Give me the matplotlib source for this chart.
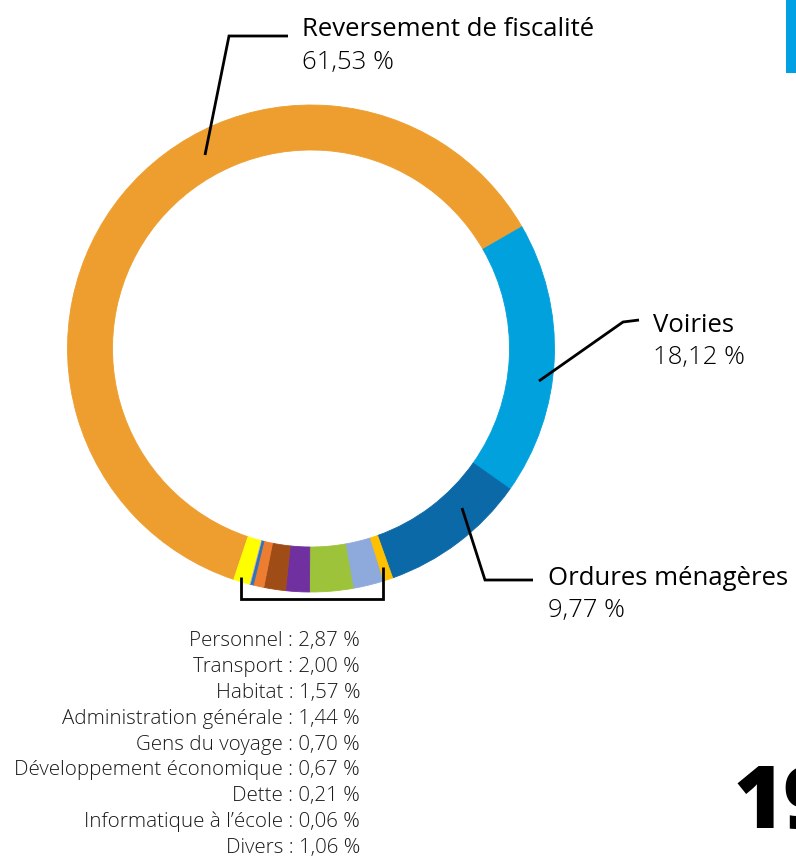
import matplotlib.pyplot as plt

W, H = 796, 859

# data, in the order drawn around the ring (clockwise)
labels = ["Reversement de fiscalité", "Voiries", "Ordures ménagères",
          "Développement économique", "Transport", "Personnel", "Habitat",
          "Administration générale", "Gens du voyage", "Dette",
          "Informatique à l’école", "Divers"]
values = [61.53, 18.12, 9.77, 0.67, 2.00, 2.87, 1.57, 1.44, 0.70, 0.21, 0.06, 1.06]
colors = ["#EE9E2E", "#00A1DC", "#0B69A8", "#FFC000", "#8EA9DB", "#9DC33B",
          "#7030A0", "#A04C16", "#ED7D31", "#2E75B6", "#C9A0DC", "#FFFF00"]

# list under the chart
list_labels = ["Personnel", "Transport", "Habitat", "Administration générale",
               "Gens du voyage", "Développement économique", "Dette",
               "Informatique à l’école", "Divers"]
list_values = [2.87, 2.00, 1.57, 1.44, 0.70, 0.67, 0.21, 0.06, 1.06]


def fr(v):
    return f"{v:.2f}".replace(".", ",") + " %"


plt.rcParams['font.family'] = ['Open Sans', 'DejaVu Sans']

fig = plt.figure(figsize=(W / 100, H / 100), dpi=100)
ax = fig.add_axes([0, 0, 1, 1])

cx, cy, r = 311, H - 348.5, 243.5
ax.pie(values, colors=colors, center=(cx, cy), radius=r, startangle=-108.5,
       counterclock=False, frame=True,
       wedgeprops=dict(width=45, linewidth=0.6))
for w, c in zip(ax.patches, colors):
    w.set_edgecolor(c)
ax.set_xlim(0, W)
ax.set_ylim(0, H)
ax.set_aspect('equal')
ax.axis('off')


def Y(y):
    return H - y


lk = dict(color="black", lw=2, solid_capstyle='butt', solid_joinstyle='miter')
# leader lines
ax.plot([205, 229, 288], [Y(155), Y(36), Y(36)], **lk)
ax.plot([539, 623, 639], [Y(381), Y(322), Y(320)], **lk)
ax.plot([462, 485, 533], [Y(508), Y(580), Y(580)], **lk)
ax.plot([241, 241, 383, 383], [Y(577), Y(599), Y(599), Y(567)], **lk)

big = dict(fontsize=18.5, color="black", va="baseline", ha="left")
ax.text(302, Y(36), labels[0], **big)
ax.text(302, Y(69), fr(values[0]), fontweight='light', **big)
ax.text(653, Y(332), labels[1], **big)
ax.text(653, Y(364), fr(values[1]), fontweight='light', **big)
ax.text(548, Y(585), labels[2], **big)
ax.text(548, Y(617), fr(values[2]), fontweight='light', **big)

for i, (lab, v) in enumerate(zip(list_labels, list_values)):
    ax.text(360, Y(646 + i * 25.9), f"{lab} : {fr(v)}", fontsize=14.8,
            color="#1a1a1a", fontweight='light', ha="right", va="baseline")

# page decorations
ax.add_patch(plt.Rectangle((786, Y(73)), 12, 73, color="#00A0E3", lw=0))
ax.text(733, Y(828), "19", fontsize=62, fontweight='heavy', color="black",
        ha="left", va="baseline")

fig.savefig("out.png", dpi=100)
